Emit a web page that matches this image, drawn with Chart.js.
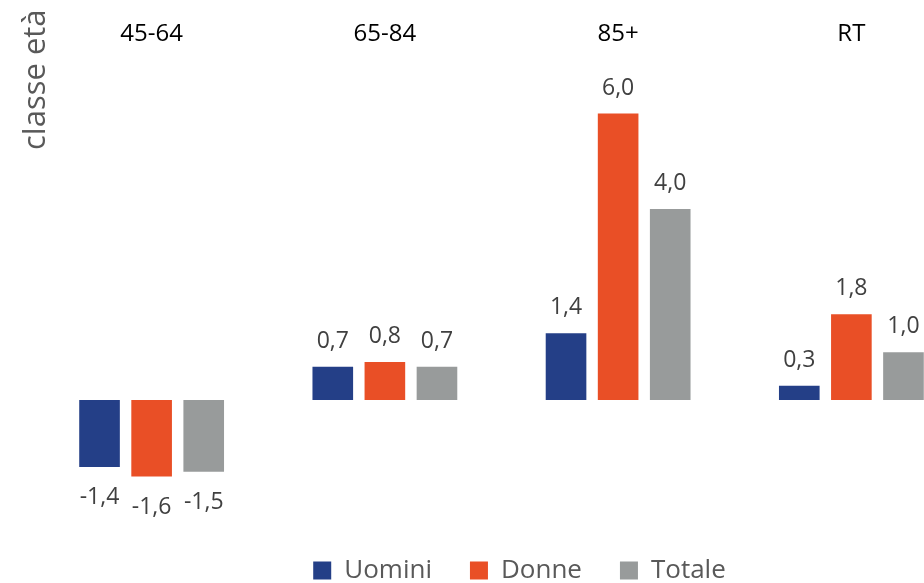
<!DOCTYPE html>
<html>
<head>
<meta charset="utf-8">
<script src="https://cdn.jsdelivr.net/npm/chart.js@4.4.1/dist/chart.umd.min.js"></script>
<style>
  body { margin: 0; background: #fff; overflow: hidden; }
</style>
</head>
<body>
<canvas id="grafico" width="968" height="583"></canvas>
<script>
const classi = ["45-64", "65-84", "85+", "RT"];
const uomini = [-1.4, 0.7, 1.4, 0.3];
const donne = [-1.6, 0.8, 6.0, 1.8];
const totale = [-1.5, 0.7, 4.0, 1.0];

const FONT = "'Open Sans', 'DejaVu Sans', sans-serif";

// etichette dei valori sopra/sotto le barre
const etichette = {
    id: "etichette",
    afterDatasetsDraw(chart) {
        const ctx = chart.ctx;
        ctx.save();
        ctx.font = "23px " + FONT;
        ctx.fillStyle = "#404040";
        ctx.textAlign = "center";
        ctx.textBaseline = "alphabetic";
        chart.data.datasets.forEach(function (ds, i) {
            chart.getDatasetMeta(i).data.forEach(function (bar, j) {
                const v = ds.data[j];
                const testo = v.toFixed(1).replace(".", ",");
                const y = v >= 0 ? bar.y - 19 : bar.y + 37;
                ctx.fillText(testo, bar.x, y);
            });
        });
        ctx.restore();
    }
};

// titolo verticale in alto a sinistra
const titoloAsse = {
    id: "titoloAsse",
    afterDraw(chart) {
        const ctx = chart.ctx;
        ctx.save();
        ctx.font = "31px " + FONT;
        ctx.fillStyle = "#595959";
        ctx.translate(36, 150);
        ctx.rotate(-Math.PI / 2);
        ctx.textAlign = "left";
        ctx.fillText("classe età", 0, 0);
        ctx.restore();
    }
};

// la tela e' piu' larga della finestra: sposta la legenda
const spostaLegenda = {
    id: "spostaLegenda",
    afterLayout(chart) {
        chart.legend.left += 18;
        chart.legend.right += 18;
    }
};

new Chart(document.getElementById("grafico"), {
    type: "bar",
    data: {
        labels: classi,
        datasets: [
            { label: "Uomini", data: uomini, backgroundColor: "#243F87" },
            { label: "Donne", data: donne, backgroundColor: "#E94F26" },
            { label: "Totale", data: totale, backgroundColor: "#989B9B" }
        ]
    },
    options: {
        responsive: false,
        animation: false,
        layout: {
            padding: { left: 35, right: 0, top: 3, bottom: -10.5 }
        },
        datasets: {
            bar: { categoryPercentage: 0.67, barPercentage: 0.78 }
        },
        scales: {
            x: {
                position: "top",
                grid: { display: false, drawTicks: false },
                border: { display: false },
                ticks: {
                    color: "#000",
                    padding: 17,
                    font: { family: FONT, size: 24 }
                }
            },
            y: {
                display: false,
                min: -2.5,
                max: 7
            }
        },
        plugins: {
            legend: {
                position: "bottom",
                labels: {
                    boxWidth: 18,
                    boxHeight: 18,
                    padding: 38,
                    color: "#595959",
                    font: { family: FONT, size: 26 }
                }
            },
            tooltip: { enabled: false }
        }
    },
    plugins: [etichette, titoloAsse, spostaLegenda]
});
</script>
</body>
</html>
